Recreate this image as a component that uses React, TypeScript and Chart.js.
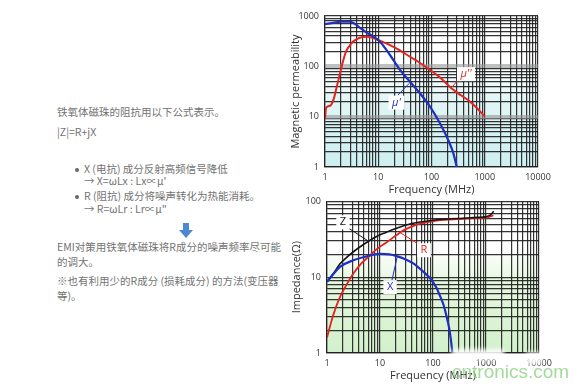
import React, { useEffect, useRef } from 'react';
import { Chart, registerables } from 'chart.js';

Chart.register(...registerables);

// ---------- data ----------
const freqTicks = [1, 2, 3, 4, 5, 6, 7, 8, 9, 10, 20, 30, 40, 50, 60, 70, 80, 90, 100, 200, 300, 400, 500, 600, 700, 800, 900, 1000, 2000, 3000, 4000, 5000, 6000, 7000, 8000, 9000, 10000];
const muTicks = [1, 2, 3, 4, 5, 6, 7, 8, 9, 10, 20, 30, 40, 50, 60, 70, 80, 90, 100, 200, 300, 400, 500, 600, 700, 800, 900, 1000];
const impTicks = [1, 2, 3, 4, 5, 6, 7, 8, 9, 10, 20, 30, 40, 50, 60, 70, 80, 90, 100];

// μ' (real part)
const muRealFreq = [1, 1.5, 2, 2.8, 3.5, 4.5, 6, 7.5, 10.8, 16.6, 25.6, 39.5, 60.8, 93.6, 144, 207, 260, 298];
const muRealVal = [690, 740, 770, 775, 720, 590, 470, 410, 309, 168, 85, 49.5, 29, 15.8, 7.4, 3.4, 1.8, 1];
// μ'' (imaginary part)
const muImagFreq = [1, 1.05, 1.25, 1.45, 1.65, 1.9, 2.2, 2.5, 3, 3.5, 4.5, 6, 7.5, 10, 16.6, 25, 39.5, 60, 93.6, 150, 222, 350, 527, 750, 1000];
const muImagVal = [9, 15, 16.5, 22, 38, 70, 130, 200, 270, 320, 370, 385, 375, 333, 265, 210, 155, 118, 85, 58, 39, 27, 20, 14, 10];

// Impedance |Z|
const zFreq = [1, 1.3, 1.76, 2.3, 3.1, 4.5, 6.5, 9, 13, 20, 30, 57, 100, 180, 370, 700, 1000, 1200, 1400];
const zVal = [8.7, 11, 15, 18, 21.5, 26, 30.7, 35, 39, 44, 48.5, 53.5, 56.5, 58.5, 60, 61.5, 63, 66, 74];
// Resistance R
const rFreq = [1, 1.15, 1.31, 1.76, 2.3, 3.14, 4.5, 6.5, 9, 13.4, 20, 27.6, 40, 57, 117, 200, 370, 770, 1100, 1380];
const rVal = [1.6, 2.3, 3.16, 5.5, 7.8, 11.2, 15.3, 19.5, 24, 29, 35.5, 41.5, 46.5, 50.8, 56, 57.5, 59, 60.5, 62, 65.5];
// Reactance X
const xFreq = [1, 1.76, 3.14, 5, 10, 15, 20.6, 30, 42.5, 60, 88, 117, 135, 160, 181, 200, 215, 233];
const xVal = [8.7, 13.7, 16.7, 18.5, 20.3, 20, 19, 17.3, 15.2, 12.5, 9.7, 7.2, 5.7, 4.2, 3.0, 2.2, 1.6, 1];

// curve labels: text, label position (freq, value), leader from -> to (freq, value)
const muLabelTexts = ["μ''", "μ'"];
const muLabelAt = [[445, 70], [22, 19]];
const muLeaders = [[[328, 56], [243, 38.8]], [[23.5, 27], [38.3, 46]]];

const impLabelTexts = ['Z', 'R', 'X'];
const impLabelAt = [[2.0, 53], [67.6, 22.7], [15.5, 7.4]];
const impLeaders = [[[2.6, 44], [5.7, 30.7]], [[50, 28], [23.8, 39]], [[16.8, 9.1], [21, 18.3]]];

const leftLines = [
  '铁氧体磁珠的阻抗用以下公式表示。',
  '|Z|=R+jX',
  'X (电抗) 成分反射高频信号降低',
  '→ X=ωLx : Lx∝μ\'',
  'R (阻抗) 成分将噪声转化为热能消耗。',
  '→ R=ωLr : Lr∝μ"',
  'EMI对策用铁氧体磁珠将R成分的噪声频率尽可能',
  '的调大。',
  '※也有利用少的R成分 (损耗成分) 的方法(变压器',
  '等)。',
];

// ---------- styles ----------
const RED = '#e4231f';
const BLUE = '#1f2fbf';
const BLACK = '#151515';
const FONT = "'Open Sans', 'Liberation Sans', Arial, sans-serif";
const TEXT_GREY = '#737373';

const isDecade = (v: number) => Math.abs(Math.log10(v) - Math.round(Math.log10(v))) < 1e-9;

function pts(xs: number[], ys: number[]) {
  return xs.map((x, i) => ({ x, y: ys[i] }));
}

function makeAxis(ticksList: number[], opts: any) {
  const { horizontal, size, title, titlePad, thick } = opts;
  return {
    type: 'logarithmic',
    position: horizontal ? 'bottom' : 'left',
    min: ticksList[0],
    max: ticksList[ticksList.length - 1],
    afterBuildTicks: (s: any) => {
      s.ticks = ticksList.map((v) => ({ value: v, major: isDecade(v) }));
    },
    afterFit: (s: any) => {
      if (horizontal) s.height = size;
      else s.width = size;
    },
    ticks: {
      autoSkip: false,
      maxRotation: 0,
      minRotation: 0,
      padding: horizontal ? 5 : 6,
      color: '#333',
      font: { family: FONT, size: 9 },
      callback: (v: any) => (isDecade(Number(v)) ? String(Number(v)) : ''),
    },
    grid: {
      drawTicks: false,
      color: (c: any) => {
        const v = c.tick && c.tick.value;
        if (thick && (v === 10 || v === 100)) return 'rgba(150,150,150,0.6)';
        return 'rgba(30,30,30,0.9)';
      },
      lineWidth: (c: any) => {
        const v = c.tick && c.tick.value;
        if (thick && (v === 10 || v === 100)) return 4;
        return 1.2;
      },
    },
    border: { display: true, color: '#222', width: 1.2 },
    title: {
      display: true,
      text: title,
      color: '#333',
      font: { family: FONT, size: 11 },
      padding: titlePad,
    },
  };
}

function bgPlugin(top: string, mid: string, bottom: string) {
  return {
    id: 'bg',
    beforeDraw(chart: any) {
      const { ctx, chartArea: a } = chart;
      const g = ctx.createLinearGradient(0, a.top, 0, a.bottom);
      g.addColorStop(0, top);
      g.addColorStop(0.3, top);
      g.addColorStop(0.55, mid);
      g.addColorStop(1, bottom);
      ctx.save();
      ctx.fillStyle = g;
      ctx.fillRect(a.left, a.top, a.right - a.left, a.bottom - a.top);
      ctx.restore();
    },
  };
}

function labelPlugin(texts: string[], at: number[][], leaders: number[][][], colors: string[], italic: boolean) {
  return {
    id: 'curveLabels',
    afterDatasetsDraw(chart: any) {
      const { ctx } = chart;
      const xs = chart.scales.x;
      const ys = chart.scales.y;
      ctx.save();
      texts.forEach((t, i) => {
        const [a, b] = leaders[i];
        ctx.strokeStyle = colors[i];
        ctx.lineWidth = 1;
        ctx.beginPath();
        ctx.moveTo(xs.getPixelForValue(a[0]), ys.getPixelForValue(a[1]));
        ctx.lineTo(xs.getPixelForValue(b[0]), ys.getPixelForValue(b[1]));
        ctx.stroke();
        const cx = xs.getPixelForValue(at[i][0]);
        const cy = ys.getPixelForValue(at[i][1]);
        ctx.font = `${italic ? 'italic ' : ''}11px ${FONT}`;
        const w = ctx.measureText(t).width + 7;
        const h = 14;
        ctx.fillStyle = '#ffffff';
        ctx.fillRect(cx - w / 2, cy - h / 2, w, h);
        ctx.fillStyle = colors[i];
        ctx.textAlign = 'center';
        ctx.textBaseline = 'middle';
        ctx.fillText(t, cx, cy);
      });
      ctx.restore();
    },
  };
}

function ChartCanvas({ config, left, top, width, height }: any) {
  const ref = useRef<HTMLCanvasElement>(null);
  useEffect(() => {
    const chart = new Chart(ref.current as HTMLCanvasElement, config);
    return () => chart.destroy();
  }, []);
  return (
    <canvas
      ref={ref}
      width={width}
      height={height}
      style={{ position: 'absolute', left, top, width, height, display: 'block' }}
    />
  );
}

const muConfig: any = {
  type: 'line',
  data: {
    datasets: [
      { label: "μ'", data: pts(muRealFreq, muRealVal), borderColor: BLUE, borderWidth: 2.2 },
      { label: "μ''", data: pts(muImagFreq, muImagVal), borderColor: RED, borderWidth: 2 },
    ],
  },
  options: {
    responsive: false,
    animation: false,
    devicePixelRatio: 1,
    layout: { padding: { top: 16, right: 20, bottom: 0, left: 0 } },
    elements: { point: { radius: 0 }, line: { tension: 0.4, cubicInterpolationMode: 'monotone', fill: false } },
    plugins: { legend: { display: false }, tooltip: { enabled: false } },
    scales: {
      x: makeAxis(freqTicks, { horizontal: true, size: 29, title: 'Frequency (MHz)', titlePad: { top: 0, bottom: 0 } }),
      y: makeAxis(muTicks, { horizontal: false, size: 45, title: 'Magnetic permeability', titlePad: { top: 9, bottom: 0 }, thick: true }),
    },
  },
  plugins: [
    bgPlugin('#ffffff', '#e3f5f6', '#cdeef0'),
    labelPlugin(muLabelTexts, muLabelAt, muLeaders, [RED, BLUE], true),
  ],
};

const impConfig: any = {
  type: 'line',
  data: {
    datasets: [
      { label: 'X', data: pts(xFreq, xVal), borderColor: BLUE, borderWidth: 2.2 },
      { label: 'Z', data: pts(zFreq, zVal), borderColor: BLACK, borderWidth: 1.6 },
      { label: 'R', data: pts(rFreq, rVal), borderColor: RED, borderWidth: 1.8 },
    ],
  },
  options: {
    responsive: false,
    animation: false,
    devicePixelRatio: 1,
    layout: { padding: { top: 11, right: 20, bottom: 0, left: 0 } },
    elements: { point: { radius: 0 }, line: { tension: 0.4, cubicInterpolationMode: 'monotone', fill: false } },
    plugins: { legend: { display: false }, tooltip: { enabled: false } },
    scales: {
      x: makeAxis(freqTicks, { horizontal: true, size: 29, title: 'Frequency (MHz)', titlePad: { top: 0, bottom: 0 } }),
      y: makeAxis(impTicks, { horizontal: false, size: 45, title: 'Impedance(Ω)', titlePad: { top: 8, bottom: 0 } }),
    },
  },
  plugins: [
    bgPlugin('#ffffff', '#e4f6de', '#d2f0cb'),
    labelPlugin(impLabelTexts, impLabelAt, impLeaders, [BLACK, RED, BLUE], false),
  ],
};

const cjk = "'Noto Sans CJK SC', 'Noto Sans', sans-serif";

function TextLine({ text, x, y }: { text: string; x: number; y: number }) {
  return (
    <div
      style={{
        position: 'absolute',
        left: x,
        top: y - 7,
        height: 14,
        lineHeight: '14px',
        fontSize: 10.5,
        fontFamily: cjk,
        color: TEXT_GREY,
        whiteSpace: 'nowrap',
      }}
    >
      {text}
    </div>
  );
}

function Bullet({ y }: { y: number }) {
  return (
    <div
      style={{
        position: 'absolute',
        left: 75,
        top: y - 2,
        width: 4,
        height: 4,
        borderRadius: 2,
        background: '#666',
      }}
    />
  );
}

export default function App() {
  return (
    <div style={{ position: 'absolute', left: 0, top: 0, width: 588, height: 390, background: '#fff', overflow: 'hidden' }}>
      <TextLine text={leftLines[0]} x={57} y={112} />
      <TextLine text={leftLines[1]} x={57} y={132} />
      <Bullet y={170} />
      <TextLine text={leftLines[2]} x={84} y={169} />
      <TextLine text={leftLines[3]} x={84} y={181} />
      <Bullet y={197} />
      <TextLine text={leftLines[4]} x={84} y={196} />
      <TextLine text={leftLines[5]} x={84} y={209} />
      <svg style={{ position: 'absolute', left: 178, top: 222 }} width={16} height={17}>
        <polygon points="5,1 11,1 11,8 15,8 8,16 1,8 5,8" fill="#4a88cf" />
      </svg>
      <TextLine text={leftLines[6]} x={57} y={247} />
      <TextLine text={leftLines[7]} x={57} y={262} />
      <TextLine text={leftLines[8]} x={57} y={281} />
      <TextLine text={leftLines[9]} x={57} y={296} />

      <ChartCanvas config={muConfig} left={280} top={0} width={278} height={196} />
      <ChartCanvas config={impConfig} left={282} top={190} width={277} height={192} />

      <div style={{ position: 'absolute', left: 452, top: 349, width: 52, height: 11, background: 'rgba(255,255,255,0.9)', filter: 'blur(2px)' }} />
      <div style={{ position: 'absolute', left: 526, top: 352, width: 16, height: 12, background: 'rgba(255,255,255,0.9)', filter: 'blur(2px)' }} />
      <div
        style={{
          position: 'absolute',
          left: 452,
          top: 362,
          fontSize: 19,
          lineHeight: '19px',
          fontFamily: "'Liberation Sans', Arial, sans-serif",
          color: 'rgba(140,210,130,0.8)',
          whiteSpace: 'nowrap',
        }}
      >
        cntronics.com
      </div>
    </div>
  );
}
